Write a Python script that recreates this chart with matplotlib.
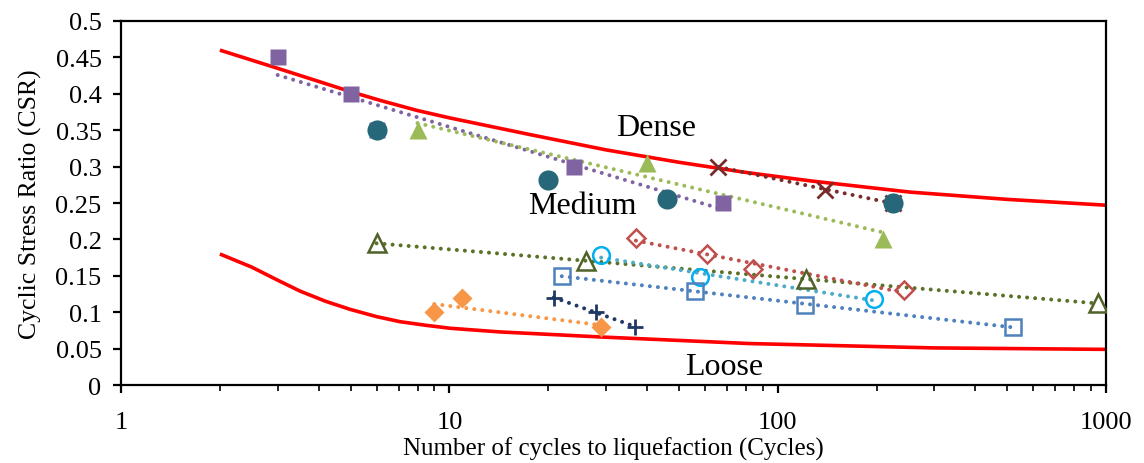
import numpy as np
import matplotlib
matplotlib.use("Agg")
import matplotlib.pyplot as plt

plt.rcParams['font.family'] = ['Liberation Serif', 'DejaVu Serif']

# boundary curves
dense_x = [2, 3, 4, 5, 6.15, 8, 10, 17.6, 30, 50, 80, 128, 253, 500, 1000]
dense_y = [0.46, 0.435, 0.417, 0.403, 0.391, 0.377, 0.367, 0.344, 0.323, 0.306, 0.292, 0.280, 0.265, 0.255, 0.247]
loose_x = [2, 2.5, 3, 3.51, 4.2, 4.98, 6, 7.08, 8.5, 10.06, 14.2, 29, 82, 300, 1000]
loose_y = [0.18, 0.162, 0.144, 0.129, 0.115, 0.104, 0.094, 0.087, 0.082, 0.078, 0.073, 0.066, 0.057, 0.051, 0.049]

# test series
sq_purple_x = [3, 5, 6, 24, 68]
sq_purple_y = [0.45, 0.40, 0.35, 0.30, 0.25]
tri_green_x = [8, 40, 210]
tri_green_y = [0.35, 0.305, 0.20]
cross_x = [66, 139, 225]
cross_y = [0.30, 0.268, 0.25]
circ_teal_x = [6, 20, 46, 225]
circ_teal_y = [0.35, 0.282, 0.255, 0.25]
tri_olive_x = [6, 26, 122, 946]
tri_olive_y = [0.195, 0.170, 0.146, 0.112]
dia_red_x = [37, 61, 84, 243]
dia_red_y = [0.202, 0.180, 0.160, 0.130]
circ_cyan_x = [29, 58, 196]
circ_cyan_y = [0.178, 0.149, 0.118]
sq_blue_x = [22, 56, 121, 521]
sq_blue_y = [0.150, 0.129, 0.110, 0.080]
plus_x = [20.8, 28, 36.8]
plus_y = [0.120, 0.100, 0.080]
dia_orange_x = [9, 10.9, 29]
dia_orange_y = [0.10, 0.12, 0.08]

fig = plt.figure(figsize=(11.44, 4.64), dpi=100)
ax = fig.add_axes([0.1058, 0.168, 0.861, 0.7846])

ax.plot(dense_x, dense_y, color='#FF0000', lw=2.6, zorder=2, solid_capstyle='butt')
ax.plot(loose_x, loose_y, color='#FF0000', lw=2.6, zorder=2, solid_capstyle='butt')


def trend(x, y, color):
    x = np.array(x, dtype=float)
    a, b = np.polyfit(np.log(x), y, 1)
    xs = np.array([x.min(), x.max()])
    ax.plot(xs, a * np.log(xs) + b, color=color, lw=2.9,
            linestyle=(0, (0.001, 2.0)), dash_capstyle='round', zorder=3)


trend(sq_purple_x, sq_purple_y, '#8064A2')
trend(tri_green_x, tri_green_y, '#9BBB59')
trend(cross_x, cross_y, '#772C2A')
trend(tri_olive_x, tri_olive_y, '#5A7228')
trend(dia_red_x, dia_red_y, '#C0504D')
trend(circ_cyan_x, circ_cyan_y, '#4BACC6')
trend(sq_blue_x, sq_blue_y, '#4F81BD')
trend(plus_x, plus_y, '#1F3864')
trend(dia_orange_x, dia_orange_y, '#F79646')

ax.plot(sq_purple_x, sq_purple_y, 's', color='#8064A2', ms=11.5, mec='none', zorder=4)
ax.plot(tri_green_x, tri_green_y, '^', color='#9BBB59', ms=13, mec='none', zorder=4)
ax.plot(cross_x, cross_y, 'x', color='#772C2A', ms=11, mew=2, zorder=4)
ax.plot(circ_teal_x, circ_teal_y, 'o', color='#27677A', ms=14.5, mec='none', zorder=5)
ax.plot(tri_olive_x, tri_olive_y, '^', mfc='none', mec='#4F6228', ms=12.5, mew=1.8, zorder=4)
ax.plot(dia_red_x, dia_red_y, 'D', mfc='none', mec='#C0504D', ms=9, mew=1.8, zorder=4)
ax.plot(circ_cyan_x, circ_cyan_y, 'o', mfc='none', mec='#00B0F0', ms=12, mew=1.8, zorder=4)
ax.plot(sq_blue_x, sq_blue_y, 's', mfc='none', mec='#4F81BD', ms=12, mew=1.8, zorder=4)
ax.plot(plus_x, plus_y, '+', color='#1F3864', ms=11, mew=2, zorder=4)
ax.plot(dia_orange_x, dia_orange_y, 'D', color='#F79646', ms=10, mec='none', zorder=4)

ax.text(42.6, 0.354, 'Dense', fontsize=23, ha='center', va='center')
ax.text(25.4, 0.246, 'Medium', fontsize=23, ha='center', va='center')
ax.text(68.7, 0.025, 'Loose', fontsize=23, ha='center', va='center')

ax.set_xscale('log')
ax.set_xlim(1, 1000)
ax.set_ylim(0, 0.5)
ax.set_yticks(np.arange(0, 0.51, 0.05))
ax.set_yticklabels(['0', '0.05', '0.1', '0.15', '0.2', '0.25', '0.3', '0.35', '0.4', '0.45', '0.5'])
ax.set_xticks([1, 10, 100, 1000])
ax.set_xticklabels(['1', '10', '100', '1000'])
ax.tick_params(axis='both', which='major', labelsize=19, direction='out', length=6, width=1.6)
ax.tick_params(axis='x', which='major', pad=13)
ax.tick_params(axis='y', which='major', pad=8)
ax.tick_params(axis='x', which='minor', direction='out', length=4.5, width=1.2)
ax.tick_params(axis='y', which='minor', left=False)
for s in ax.spines.values():
    s.set_linewidth(1.6)

ax.set_xlabel('Number of cycles to liquefaction (Cycles)', fontsize=18, labelpad=2)
ax.set_ylabel('Cyclic Stress Ratio (CSR)', fontsize=18.5, labelpad=10)

fig.savefig('out.png', dpi=100)
